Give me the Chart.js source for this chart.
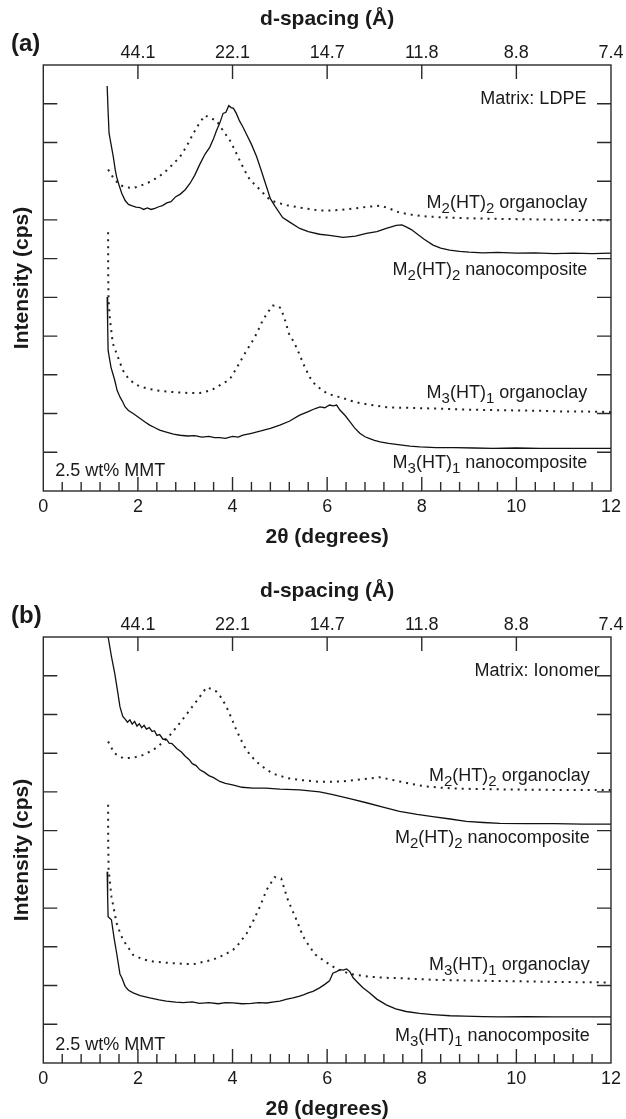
<!DOCTYPE html>
<html><head><meta charset="utf-8">
<script src="https://cdn.jsdelivr.net/npm/chart.js@4.4.1/dist/chart.umd.min.js"></script>
<style>
html,body{margin:0;padding:0;background:#fff;overflow:hidden;width:626px;height:1119px}
.panel{position:absolute;left:0;width:626px;height:572px}
#pa{top:0}#pb{top:572px}
</style></head><body>
<div class="panel" id="pa"><canvas id="ca" width="626" height="572"></canvas></div>
<div class="panel" id="pb"><canvas id="cb" width="626" height="572"></canvas></div>
<script>
// ---- tick labels ----
const xTickValues = [0, 2, 4, 6, 8, 10, 12];
const dTickPositions = [2, 4, 6, 8, 10, 12];
const dTickLabels = ['44.1', '22.1', '14.7', '11.8', '8.8', '7.4'];
const yTickValues = [1, 2, 3, 4, 5, 6, 7, 8, 9, 10];

// ---- panel (a) LDPE ----
const aM2NanoX = [1.35,1.37,1.39,1.44,1.48,1.52,1.55,1.6,1.66,1.73,1.8,1.88,1.96,2.04,2.12,2.2,2.28,2.36,2.44,2.52,2.61,2.7,2.8,2.89,3.0,3.1,3.2,3.31,3.42,3.52,3.6,3.66,3.73,3.8,3.86,3.92,3.97,4.02,4.08,4.15,4.22,4.3,4.4,4.51,4.6,4.72,4.8,4.9,5.06,5.2,5.42,5.6,5.84,6.05,6.34,6.6,6.83,7.05,7.25,7.46,7.58,7.67,7.78,7.89,8.05,8.24,8.4,8.59,8.8,9.0,9.29,9.6,10.0,10.4,10.8,11.2,11.6,12.0];
const aM2NanoY = [10.46,9.8,9.24,8.9,8.63,8.3,8.11,7.9,7.68,7.5,7.4,7.36,7.33,7.32,7.27,7.31,7.27,7.3,7.34,7.37,7.44,7.47,7.6,7.66,7.78,7.94,8.15,8.44,8.7,8.88,9.1,9.3,9.5,9.75,9.78,9.95,9.9,9.88,9.75,9.55,9.4,9.2,8.95,8.63,8.3,7.85,7.55,7.35,7.06,6.95,6.78,6.7,6.63,6.6,6.55,6.58,6.65,6.7,6.78,6.86,6.87,6.82,6.75,6.65,6.5,6.35,6.27,6.22,6.19,6.17,6.15,6.16,6.14,6.15,6.13,6.14,6.13,6.14];
const aM2OrgX = [1.37,1.5,1.62,1.75,1.89,2.05,2.25,2.45,2.61,2.75,2.89,3.03,3.17,3.3,3.42,3.54,3.66,3.77,3.86,3.94,4.05,4.15,4.26,4.37,4.5,4.64,4.79,4.93,5.15,5.42,5.84,6.05,6.4,6.8,7.12,7.3,7.53,7.8,8.1,8.38,8.8,9.4,10.0,10.6,11.2,12.0];
const aM2OrgY = [8.3,8.05,7.9,7.84,7.82,7.88,7.98,8.12,8.28,8.45,8.63,8.9,9.23,9.5,9.7,9.62,9.57,9.36,9.2,9.06,8.8,8.54,8.27,8.03,7.88,7.7,7.52,7.45,7.38,7.32,7.24,7.24,7.27,7.33,7.37,7.3,7.19,7.13,7.09,7.07,7.05,7.03,7.02,7.01,7.0,6.99];
const aM3OrgX = [1.37,1.372,1.38,1.41,1.47,1.58,1.68,1.8,1.95,2.1,2.25,2.5,2.8,3.05,3.31,3.55,3.73,3.9,3.98,4.12,4.26,4.37,4.47,4.56,4.64,4.75,4.85,4.95,5.02,5.1,5.19,5.28,5.36,5.49,5.63,5.75,5.88,6.0,6.15,6.33,6.5,6.69,7.0,7.26,7.6,7.95,8.5,9.0,9.5,10.0,10.5,11.0,11.5,12.0];
const aM3OrgY = [6.68,5.6,4.9,4.41,3.81,3.45,3.12,2.9,2.75,2.68,2.63,2.58,2.55,2.53,2.53,2.6,2.73,2.85,2.95,3.25,3.55,3.77,3.97,4.2,4.41,4.62,4.79,4.78,4.72,4.45,4.07,3.88,3.69,3.3,2.94,2.74,2.62,2.52,2.46,2.4,2.33,2.27,2.21,2.16,2.15,2.14,2.12,2.1,2.09,2.08,2.07,2.05,2.05,2.04];
const aM3NanoX = [1.35,1.36,1.37,1.43,1.51,1.56,1.62,1.68,1.73,1.8,1.9,2.04,2.15,2.25,2.35,2.46,2.6,2.75,2.89,3.05,3.2,3.35,3.5,3.62,3.73,3.85,4.0,4.12,4.22,4.4,4.6,4.8,5.0,5.2,5.42,5.6,5.75,5.85,5.95,6.05,6.13,6.2,6.27,6.38,6.48,6.58,6.69,6.8,6.9,7.0,7.12,7.3,7.54,7.75,7.96,8.3,8.7,9.1,9.5,10.0,10.5,11.0,11.5,12.0];
const aM3NanoY = [5.01,4.3,3.63,3.2,2.86,2.6,2.43,2.3,2.17,2.08,2.0,1.88,1.78,1.7,1.64,1.57,1.52,1.47,1.44,1.42,1.43,1.39,1.41,1.38,1.38,1.36,1.41,1.39,1.44,1.49,1.55,1.62,1.7,1.8,1.96,2.05,2.13,2.17,2.15,2.22,2.2,2.22,2.09,1.95,1.79,1.63,1.49,1.4,1.35,1.31,1.27,1.23,1.19,1.16,1.14,1.12,1.12,1.11,1.1,1.11,1.1,1.1,1.1,1.1];

// ---- panel (b) Ionomer ----
const bM2NanoX = [1.37,1.44,1.51,1.57,1.62,1.68,1.73,1.78,1.83,1.88,1.93,1.98,2.03,2.08,2.13,2.18,2.24,2.3,2.35,2.4,2.46,2.53,2.6,2.66,2.72,2.82,2.92,3.0,3.08,3.15,3.23,3.31,3.4,3.5,3.6,3.73,3.85,4.0,4.2,4.43,4.7,5.0,5.42,5.84,6.12,6.5,6.83,7.2,7.53,7.9,8.23,8.6,8.94,9.3,9.65,10.2,10.8,11.4,12.0];
const bM2NanoY = [11.0,10.5,10.06,9.6,9.2,8.95,8.88,8.8,8.86,8.75,8.82,8.7,8.76,8.66,8.72,8.62,8.66,8.56,8.58,8.46,8.48,8.36,8.36,8.26,8.25,8.12,8.03,7.92,7.84,7.73,7.68,7.57,7.51,7.42,7.37,7.27,7.22,7.18,7.12,7.1,7.1,7.07,7.05,7.0,6.93,6.82,6.72,6.6,6.5,6.42,6.36,6.3,6.24,6.21,6.19,6.18,6.18,6.17,6.17];
const bM2OrgX = [1.37,1.5,1.69,1.9,2.1,2.32,2.5,2.68,2.9,3.1,3.31,3.45,3.55,3.66,3.77,3.87,3.98,4.08,4.19,4.29,4.45,4.58,4.75,4.93,5.15,5.42,5.84,6.33,6.7,7.11,7.3,7.53,7.8,8.1,8.5,8.94,10.0,11.0,12.0];
const bM2OrgY = [8.3,8.0,7.87,7.88,7.95,8.08,8.25,8.47,8.8,9.12,9.46,9.7,9.66,9.59,9.42,9.2,8.9,8.6,8.32,8.08,7.85,7.7,7.55,7.44,7.36,7.31,7.26,7.27,7.32,7.38,7.33,7.27,7.2,7.14,7.1,7.08,7.06,7.05,7.05];
const bM3OrgX = [1.37,1.372,1.38,1.44,1.55,1.64,1.73,1.9,2.1,2.32,2.7,3.17,3.59,3.8,4.01,4.15,4.3,4.45,4.58,4.72,4.89,5.03,5.17,5.35,5.49,5.63,5.75,5.98,6.2,6.48,6.8,7.2,7.53,8.2,8.94,10.0,11.0,12.0];
const bM3OrgY = [6.67,5.7,4.99,4.3,3.61,3.3,3.1,2.79,2.68,2.62,2.58,2.55,2.67,2.78,2.92,3.1,3.35,3.7,4.04,4.47,4.8,4.76,4.21,3.7,3.27,3.0,2.8,2.6,2.43,2.3,2.24,2.2,2.19,2.15,2.13,2.11,2.09,2.08];
const bM3NanoX = [1.35,1.36,1.37,1.44,1.5,1.55,1.62,1.66,1.73,1.8,1.9,2.05,2.25,2.45,2.6,2.8,2.96,3.15,3.3,3.5,3.7,3.85,4.01,4.2,4.4,4.55,4.72,4.88,5.0,5.15,5.28,5.4,5.5,5.6,5.7,5.84,5.95,6.05,6.12,6.2,6.27,6.34,6.41,6.48,6.55,6.62,6.75,6.9,7.05,7.25,7.45,7.67,7.95,8.23,8.6,8.9,9.3,9.65,10.2,10.8,11.4,12.0];
const bM3NanoY = [4.94,4.3,3.78,3.7,3.2,2.84,2.3,2.2,1.98,1.88,1.81,1.74,1.68,1.63,1.6,1.57,1.56,1.58,1.54,1.56,1.53,1.56,1.55,1.53,1.54,1.56,1.55,1.58,1.6,1.65,1.68,1.72,1.76,1.81,1.85,1.94,2.03,2.12,2.32,2.36,2.41,2.4,2.43,2.36,2.2,2.11,1.95,1.81,1.65,1.5,1.4,1.33,1.28,1.25,1.22,1.21,1.2,1.19,1.2,1.19,1.19,1.19];

// ---- styling ----
const FONT = "'Liberation Sans', Arial, Helvetica, sans-serif";
const INK = '#1a1a1a';
const pts = (xs, ys) => xs.map((v, i) => ({x: v, y: ys[i]}));
const solid = (xs, ys) => ({data: pts(xs, ys), borderColor: '#111', borderWidth: 1.3, pointRadius: 0, tension: 0, xAxisID: 'x', yAxisID: 'y'});
const dotted = (xs, ys) => ({data: pts(xs, ys), borderColor: '#222', borderWidth: 2, borderDash: [2, 5], borderCapStyle: 'butt', pointRadius: 0, tension: 0, xAxisID: 'x', yAxisID: 'y'});

const M2 = s => [{t:'M'},{t:'2',sub:true},{t:'(HT)'},{t:'2',sub:true},{t:s}];
const M3 = s => [{t:'M'},{t:'3',sub:true},{t:'(HT)'},{t:'1',sub:true},{t:s}];

const annotA = [
  {parts:[{t:'Matrix: LDPE'}], x:11.48, y:10.17, align:'right'},
  {parts:M2(' organoclay'), x:11.5, y:7.46, align:'right'},
  {parts:M2(' nanocomposite'), x:11.5, y:5.74, align:'right'},
  {parts:M3(' organoclay'), x:11.5, y:2.57, align:'right'},
  {parts:M3(' nanocomposite'), x:11.5, y:0.76, align:'right'},
  {parts:[{t:'2.5 wt% MMT'}], x:0.25, y:0.54, align:'left'}
];
const annotB = [
  {parts:[{t:'Matrix: Ionomer'}], x:11.76, y:10.15, align:'right'},
  {parts:M2(' organoclay'), x:11.55, y:7.44, align:'right'},
  {parts:M2(' nanocomposite'), x:11.55, y:5.84, align:'right'},
  {parts:M3(' organoclay'), x:11.55, y:2.56, align:'right'},
  {parts:M3(' nanocomposite'), x:11.55, y:0.73, align:'right'},
  {parts:[{t:'2.5 wt% MMT'}], x:0.25, y:0.51, align:'left'}
];

const decor = {
  id: 'decor',
  afterDatasetsDraw(chart, args, opts) {
    const {ctx, chartArea: a, scales: {x, y}} = chart;
    ctx.save();
    ctx.strokeStyle = '#2a2a2a';
    ctx.lineWidth = 1.4;
    ctx.strokeRect(a.left, a.top, a.right - a.left, a.bottom - a.top);
    ctx.beginPath();
    for (let k = 1; k < 30; k++) {
      const v = k * 0.4;
      const px = x.getPixelForValue(v);
      const len = (k % 5 === 0) ? 14 : 9;
      ctx.moveTo(px, a.bottom); ctx.lineTo(px, a.bottom - len);
    }
    dTickPositions.forEach(v => {
      if (v >= 12) return;
      const px = x.getPixelForValue(v);
      ctx.moveTo(px, a.top); ctx.lineTo(px, a.top + 14);
    });
    yTickValues.forEach(v => {
      const py = y.getPixelForValue(v);
      ctx.moveTo(a.left, py); ctx.lineTo(a.left + 14, py);
      ctx.moveTo(a.right, py); ctx.lineTo(a.right - 14, py);
    });
    ctx.stroke();

    // annotations
    ctx.fillStyle = INK;
    ctx.textBaseline = 'alphabetic';
    const mainF = '18px ' + FONT, subF = '15px ' + FONT;
    opts.annots.forEach(an => {
      let w = 0;
      an.parts.forEach(p => { ctx.font = p.sub ? subF : mainF; w += ctx.measureText(p.t).width; });
      const px = x.getPixelForValue(an.x);
      const base = y.getPixelForValue(an.y) + 6.4;
      let cx = an.align === 'right' ? px - w : px;
      ctx.textAlign = 'left';
      an.parts.forEach(p => {
        ctx.font = p.sub ? subF : mainF;
        ctx.fillText(p.t, cx, p.sub ? base + 5 : base);
        cx += ctx.measureText(p.t).width;
      });
    });
    // panel letter
    ctx.font = 'bold 24px ' + FONT;
    ctx.textAlign = 'left';
    ctx.textBaseline = 'middle';
    ctx.fillText(opts.letter, 11, 44);
    ctx.restore();
  }
};

function makePanel(id, datasets, annots, letter) {
  return new Chart(document.getElementById(id), {
    type: 'line',
    data: {datasets},
    options: {
      responsive: false, animation: false, devicePixelRatio: 1,
      layout: {padding: {left: 0, right: 14, top: 0, bottom: 0}},
      plugins: {legend: {display: false}, tooltip: {enabled: false}, decor: {annots, letter}},
      scales: {
        x: {
          type: 'linear', position: 'bottom', min: 0, max: 12,
          afterBuildTicks: s => { s.ticks = xTickValues.map(v => ({value: v})); },
          ticks: {font: {family: FONT, size: 18}, color: INK, padding: 5, maxRotation: 0, autoSkip: false},
          grid: {display: false, drawTicks: false}, border: {display: false},
          title: {display: true, text: '2θ (degrees)', color: INK, font: {family: FONT, size: 21, weight: 'bold'}, padding: {top: 0, bottom: 22}},
          afterFit: s => { s.height = 81; }
        },
        x2: {
          type: 'linear', position: 'top', min: 0, max: 12,
          afterBuildTicks: s => { s.ticks = dTickPositions.map(v => ({value: v})); },
          ticks: {font: {family: FONT, size: 18}, color: INK, padding: 1, maxRotation: 0, autoSkip: false,
                  callback: (v, i) => dTickLabels[i]},
          grid: {display: false, drawTicks: false}, border: {display: false},
          title: {display: true, text: 'd-spacing (Å)', color: INK, font: {family: FONT, size: 21, weight: 'bold'}, padding: {top: 7, bottom: 0}},
          afterFit: s => { s.height = 65; }
        },
        y: {
          type: 'linear', position: 'left', min: 0, max: 11,
          ticks: {display: false},
          grid: {display: false, drawTicks: false}, border: {display: false},
          title: {display: true, text: 'Intensity (cps)', color: INK, font: {family: FONT, size: 21, weight: 'bold'}, padding: {top: 10, bottom: 0}},
          afterFit: s => { s.width = 43.3; }
        }
      }
    },
    plugins: [decor]
  });
}

makePanel('ca', [
  solid(aM2NanoX, aM2NanoY), dotted(aM2OrgX, aM2OrgY),
  dotted(aM3OrgX, aM3OrgY), solid(aM3NanoX, aM3NanoY)
], annotA, '(a)');
makePanel('cb', [
  solid(bM2NanoX, bM2NanoY), dotted(bM2OrgX, bM2OrgY),
  dotted(bM3OrgX, bM3OrgY), solid(bM3NanoX, bM3NanoY)
], annotB, '(b)');
</script>
</body></html>
